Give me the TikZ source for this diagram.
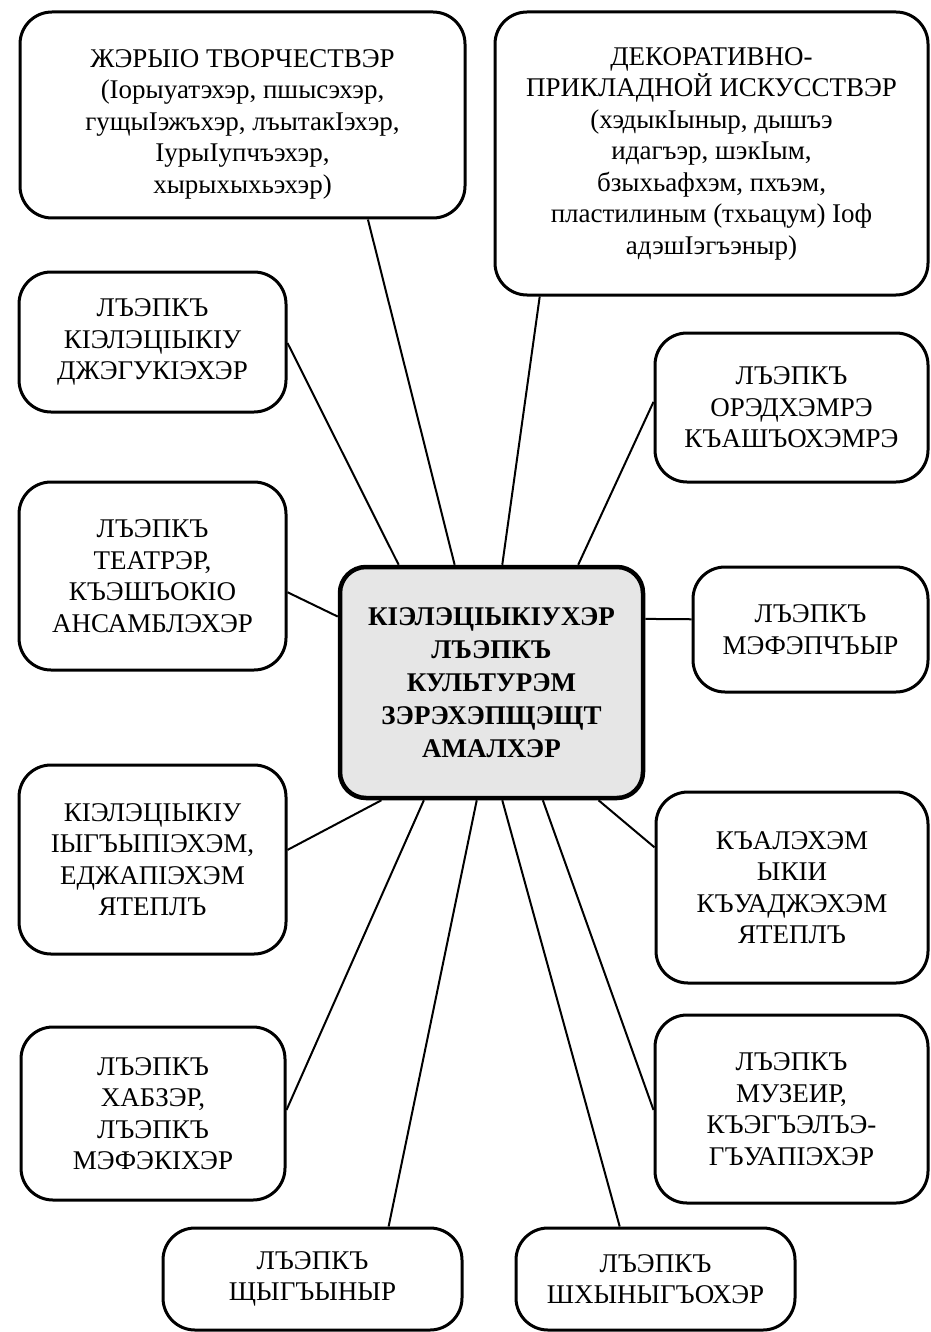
\documentclass[tikz,border=0pt]{standalone}
\usepackage{fontspec}
\setmainfont{Liberation Serif}
\usetikzlibrary{calc}
\definecolor{centerfill}{HTML}{E6E6E6}
\tikzset{
  boxfont/.style={font=\fontsize{27}{31.5}\selectfont},
  box/.style={draw=black, line width=3pt, rounded corners=32pt, fill=white,
    align=center, inner sep=0pt, boxfont},
  boxtext/.style={align=center, inner sep=0pt, boxfont},
  hub/.style={draw=black, line width=4.5pt, rounded corners=26pt, fill=centerfill,
    align=center, inner sep=0pt, font=\fontsize{27}{33}\selectfont\bfseries},
  link/.style={draw=black, line width=2pt}
}
\begin{document}
\begin{tikzpicture}[x=1pt,y=-1pt]
\useasboundingbox (0,0) rectangle (930,1332);
\fill[white] (0,0) rectangle (930,1332);

\node[box, minimum width=445pt, minimum height=206pt] (b1) at (242.5,115) {};
\node[boxtext] (t1) at ([yshift=-9pt]b1.center)
  {ЖЭРЫIО ТВОРЧЕСТВЭР\\(Iорыуатэхэр, пшысэхэр,\\гущыIэжъхэр, лъытакIэхэр,\\IурыIупчъэхэр,\\хырыхыхьэхэр)};
\node[box, minimum width=433pt, minimum height=283pt] (b2) at (711.5,153.5)
  {ДЕКОРАТИВНО-\\ПРИКЛАДНОЙ ИСКУССТВЭР\\(хэдыкIыныр, дышъэ\\идагъэр, шэкIым,\\бзыхьафхэм, пхъэм,\\пластилиным (тхьацум) Iоф\\адэшIэгъэныр)};
\node[box, minimum width=267pt, minimum height=140pt] (b3) at (152.5,342)
  {ЛЪЭПКЪ\\КIЭЛЭЦIЫКIУ\\ДЖЭГУКIЭХЭР};
\node[box, minimum width=273pt, minimum height=149pt] (b4) at (791.5,407.5)
  {ЛЪЭПКЪ\\ОРЭДХЭМРЭ\\КЪАШЪОХЭМРЭ};
\node[box, minimum width=267pt, minimum height=188pt] (b5) at (152.5,576)
  {ЛЪЭПКЪ\\ТЕАТРЭР,\\КЪЭШЪОКIО\\АНСАМБЛЭХЭР};
\node[hub, minimum width=303pt, minimum height=231pt] (c) at (491.5,682.5)
  {КIЭЛЭЦIЫКIУХЭР\\ЛЪЭПКЪ\\КУЛЬТУРЭМ\\ЗЭРЭХЭПЩЭЩТ\\АМАЛХЭР};
\node[box, minimum width=235pt, minimum height=125pt] (b7) at (810.5,629.5)
  {ЛЪЭПКЪ\\МЭФЭПЧЪЫР};
\node[box, minimum width=267pt, minimum height=189pt] (b8) at (152.5,859.5)
  {КIЭЛЭЦIЫКIУ\\IЫГЪЫПIЭХЭМ,\\ЕДЖАПIЭХЭМ\\ЯТЕПЛЪ};
\node[box, minimum width=272pt, minimum height=191pt] (b9) at (792,887.5)
  {КЪАЛЭХЭМ\\ЫКIИ\\КЪУАДЖЭХЭМ\\ЯТЕПЛЪ};
\node[box, minimum width=264pt, minimum height=173pt] (b10) at (153,1113.5)
  {ЛЪЭПКЪ\\ХАБЗЭР,\\ЛЪЭПКЪ\\МЭФЭКIХЭР};
\node[box, minimum width=273pt, minimum height=188pt] (b11) at (791.5,1109)
  {ЛЪЭПКЪ\\МУЗЕИР,\\КЪЭГЪЭЛЪЭ-\\ГЪУАПIЭХЭР};
\node[box, minimum width=299pt, minimum height=102pt] (b12) at (312.5,1279)
  {ЛЪЭПКЪ\\ЩЫГЪЫНЫР};
\node[box, minimum width=279pt, minimum height=102pt] (b13) at (655.5,1279)
  {ЛЪЭПКЪ\\ШХЫНЫГЪОХЭР};

\draw[link] ($(b1.south west)!0.78!(b1.south east)$) -- ($(c.north west)!0.38!(c.north east)$);
\draw[link] ($(b2.south west)!0.106!(b2.south east)$) -- ($(c.north west)!0.535!(c.north east)$);
\draw[link] ($(b3.north east)!0.507!(b3.south east)$) -- ($(c.north west)!0.198!(c.north east)$);
\draw[link] ($(b4.north west)!0.463!(b4.south west)$) -- ($(c.north west)!0.782!(c.north east)$);
\draw[link] ($(b5.north east)!0.585!(b5.south east)$) -- ($(c.north west)!0.22!(c.south west)$);
\draw[link] ($(b7.north west)!0.42!(b7.south west)$) -- ($(c.north east)!0.23!(c.south east)$);
\draw[link] ($(b8.north east)!0.45!(b8.south east)$) -- ($(c.south west)!0.142!(c.south east)$);
\draw[link] ($(b9.north west)!0.293!(b9.south west)$) -- ($(c.south west)!0.848!(c.south east)$);
\draw[link] ($(b10.north east)!0.48!(b10.south east)$) -- ($(c.south west)!0.28!(c.south east)$);
\draw[link] ($(b11.north west)!0.505!(b11.south west)$) -- ($(c.south west)!0.667!(c.south east)$);
\draw[link] ($(b12.north west)!0.752!(b12.north east)$) -- ($(c.south west)!0.452!(c.south east)$);
\draw[link] ($(b13.north west)!0.373!(b13.north east)$) -- ($(c.south west)!0.535!(c.south east)$);
\end{tikzpicture}
\end{document}
